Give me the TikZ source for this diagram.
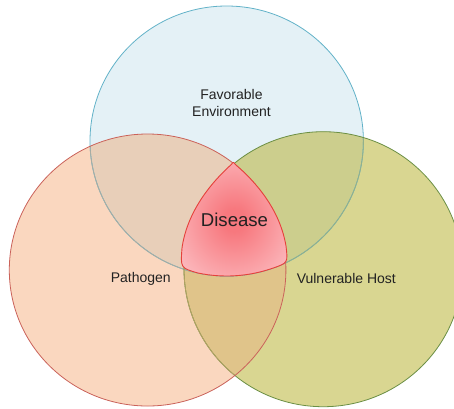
\documentclass[tikz,border=0pt]{standalone}
\usepackage{fontspec}
\setmainfont{Liberation Sans}
\definecolor{tfill}{HTML}{E4F1F6}
\definecolor{lfill}{HTML}{FAD7BF}
\definecolor{rfill}{HTML}{D9D691}
\definecolor{tlfill}{HTML}{E8CFB9}
\definecolor{trfill}{HTML}{CCCE8D}
\definecolor{lrfill}{HTML}{E0C48A}
\definecolor{tstroke}{HTML}{62B2C8}
\definecolor{tstrokeL}{HTML}{A9ACA2}
\definecolor{tstrokeR}{HTML}{93B08A}
\definecolor{lstroke}{HTML}{CA625A}
\definecolor{rstroke}{HTML}{6B8F45}
\definecolor{rstrokeL}{HTML}{B5A264}
\definecolor{dcenter}{HTML}{F7787E}
\definecolor{dedge}{HTML}{FDCED2}
\definecolor{dstroke}{HTML}{E5413B}
\definecolor{txt}{HTML}{222222}
\pgfdeclareradialshading{disshade}{\pgfpoint{0bp}{0bp}}{color(0bp)=(dcenter); color(5bp)=(dcenter); color(40bp)=(dedge); color(50bp)=(dedge)}
\begin{document}
\begin{tikzpicture}[x=1pt,y=-1pt,
  Tshape/.style={insert path={(226.7,141) ellipse [x radius=136.7pt, y radius=135pt]}},
  Lshape/.style={insert path={(147.6,270) ellipse [x radius=138.3pt, y radius=136pt]}},
  Rshape/.style={insert path={(323.2,269.2) ellipse [x radius=139.2pt, y radius=137.5pt]}},
  ring/.style={line width=0.8pt},
  lbl/.style={font=\fontsize{14}{17}\selectfont, text=txt, inner sep=0pt, align=center}]
\useasboundingbox (0,0) rectangle (454,408);
\clip (0,0) rectangle (454,408);
% base fills
\fill[tfill, Tshape];
\fill[rfill, Rshape];
\fill[lfill, Lshape];
% overlaps
\begin{scope}
  \clip[Tshape];
  \fill[trfill, Rshape];
  \fill[tlfill, Lshape];
\end{scope}
\begin{scope}
  \clip[Lshape];
  \fill[lrfill, Rshape];
\end{scope}
% outlines
\draw[ring, tstroke, Tshape];
\begin{scope}
  \clip[Rshape];
  \draw[ring, tstrokeR, Tshape];
\end{scope}
\begin{scope}
  \clip[Lshape];
  \draw[ring, tstrokeL, Tshape];
\end{scope}
\draw[ring, rstroke, Rshape];
\begin{scope}
  \clip[Lshape];
  \draw[ring, rstrokeL, Rshape];
\end{scope}
\draw[ring, lstroke, Lshape];
% disease region
\draw[line width=0.9pt, dstroke, shading=disshade]
  (231.2,164.6) .. controls (233.3,161.8) .. (235.5,164.6)
  .. controls (261,186.4) and (280.6,213.8) .. (286,246)
  .. controls (288,263) .. (272,268.4)
  .. controls (248.3,276.6) and (222.5,278.2) .. (198,273)
  .. controls (180.5,268) .. (182,248)
  .. controls (186.6,215.6) and (206.3,187) .. cycle;
% labels
\node[lbl] (env) at (231.5,103) {Favorable\\Environment};
\node[lbl] (path) at (140.8,279.3) {Pathogen};
\node[lbl] (host) at (346.3,278.5) {Vulnerable Host};
\node[lbl, font=\fontsize{18.6}{22}\selectfont] (dis) at (234.5,220) {Disease};
\end{tikzpicture}
\end{document}
